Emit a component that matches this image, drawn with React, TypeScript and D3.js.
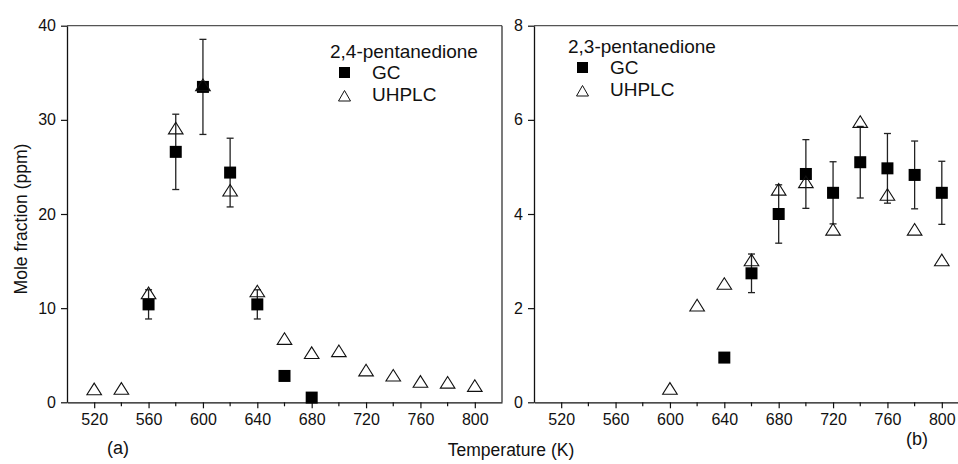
import React, { useEffect, useRef } from 'react'
import * as d3 from 'd3'

// x ticks shared by both panels
const tempTicks = [520, 560, 600, 640, 680, 720, 760, 800]
const tempMinor = [540, 580, 620, 660, 700, 740, 780]

// (a) 2,4-pentanedione
const gcTempA = [560, 580, 600, 620, 640, 660, 680]
const gcValA = [10.4, 26.6, 33.5, 24.4, 10.4, 2.8, 0.5]
const gcErrA = [1.55, 4.0, 5.05, 3.65, 1.55, 0, 0]
const lcTempA = [520, 540, 560, 580, 600, 620, 640, 660, 680, 700, 720, 740, 760, 780, 800]
const lcValA = [1.4, 1.45, 11.6, 29.1, 33.7, 22.5, 11.8, 6.75, 5.25, 5.45, 3.4, 2.85, 2.2, 2.1, 1.75]
const yTicksA = [0, 10, 20, 30, 40]

// (b) 2,3-pentanedione
const gcTempB = [640, 660, 680, 700, 720, 740, 760, 780, 800]
const gcValB = [0.95, 2.74, 4.0, 4.85, 4.45, 5.1, 4.97, 4.83, 4.45]
const gcErrB = [0.1, 0.41, 0.62, 0.73, 0.66, 0.76, 0.74, 0.72, 0.67]
const lcTempB = [600, 620, 640, 660, 680, 700, 720, 740, 760, 780, 800]
const lcValB = [0.29, 2.06, 2.52, 3.02, 4.52, 4.68, 3.67, 5.96, 4.41, 3.67, 3.02]
const yTicksB = [0, 2, 4, 6, 8]

const FONT = '"Liberation Sans", Arial, sans-serif'
const INK = '#111'

function drawPanel(svg, opts) {
  const { left, right, top, bottom, yMax, yTicks, gcT, gcV, gcE, lcT, lcV, name, legendX, legendY, box } = opts

  const x = d3.scaleLinear().domain([500, 820]).range([left, right])
  const y = d3.scaleLinear().domain([0, yMax]).range([bottom, top])

  const g = svg.append('g')

  // frame: top line, and right line if visible
  g.append('line').attr('x1', left).attr('x2', right).attr('y1', top).attr('y2', top)
    .attr('stroke', '#555').attr('stroke-width', 1.3)
  if (box) {
    g.append('line').attr('x1', right).attr('x2', right).attr('y1', top).attr('y2', bottom)
      .attr('stroke', '#333').attr('stroke-width', 1.3)
  }

  // bottom axis
  const xAxis = g.append('g').attr('transform', 'translate(0,' + bottom + ')')
    .call(d3.axisBottom(x).tickValues(tempTicks).tickSize(6).tickPadding(5).tickSizeOuter(0))
  xAxis.select('.domain').attr('stroke', INK).attr('stroke-width', 1.3)
  xAxis.selectAll('.tick line').attr('stroke', INK).attr('stroke-width', 1.2)
  xAxis.selectAll('text').attr('font-family', FONT).attr('font-size', 16).attr('fill', INK)
  xAxis.selectAll('.minor').data(tempMinor).enter().append('line')
    .attr('x1', d => x(d)).attr('x2', d => x(d)).attr('y1', 0).attr('y2', 4)
    .attr('stroke', INK).attr('stroke-width', 1.2)

  // left axis
  const yAxis = g.append('g').attr('transform', 'translate(' + left + ',0)')
    .call(d3.axisLeft(y).tickValues(yTicks).tickSize(6).tickPadding(5).tickSizeOuter(0))
  yAxis.select('.domain').attr('stroke', INK).attr('stroke-width', 1.3)
  yAxis.selectAll('.tick line').attr('stroke', INK).attr('stroke-width', 1.2)
  yAxis.selectAll('text').attr('font-family', FONT).attr('font-size', 16).attr('fill', INK)

  // GC error bars
  const gc = gcT.map((t, i) => ({ t: t, v: gcV[i], e: gcE[i] }))
  const eb = g.append('g').attr('stroke', '#222').attr('stroke-width', 1.3)
  gc.filter(d => d.e > 0).forEach(d => {
    eb.append('line').attr('x1', x(d.t)).attr('x2', x(d.t)).attr('y1', y(d.v - d.e)).attr('y2', y(d.v + d.e))
    eb.append('line').attr('x1', x(d.t) - 3.5).attr('x2', x(d.t) + 3.5).attr('y1', y(d.v - d.e)).attr('y2', y(d.v - d.e))
    eb.append('line').attr('x1', x(d.t) - 3.5).attr('x2', x(d.t) + 3.5).attr('y1', y(d.v + d.e)).attr('y2', y(d.v + d.e))
  })

  // GC squares
  g.selectAll('.gc').data(gc).enter().append('rect')
    .attr('x', d => x(d.t) - 6).attr('y', d => y(d.v) - 6)
    .attr('width', 12).attr('height', 12).attr('fill', '#000')

  // UHPLC triangles
  const tri = 'M0,-6 L7.3,5.6 L-7.3,5.6 Z'
  g.selectAll('.lc').data(lcT.map((t, i) => ({ t: t, v: lcV[i] }))).enter().append('path')
    .attr('d', tri).attr('transform', d => 'translate(' + x(d.t) + ',' + y(d.v) + ')')
    .attr('fill', 'none').attr('stroke', '#111').attr('stroke-width', 1.1)

  // legend
  const lg = g.append('g').attr('font-family', FONT).attr('font-size', 19).attr('fill', INK)
  lg.append('text').attr('x', legendX).attr('y', legendY).text(name)
  lg.append('rect').attr('x', legendX + 9).attr('y', legendY + 9).attr('width', 11).attr('height', 11).attr('fill', '#000')
  lg.append('text').attr('x', legendX + 42).attr('y', legendY + 21).text('GC')
  lg.append('path').attr('d', 'M0,-5.5 L6,5 L-6,5 Z')
    .attr('transform', 'translate(' + (legendX + 14.5) + ',' + (legendY + 38) + ')')
    .attr('fill', 'none').attr('stroke', '#111').attr('stroke-width', 1)
  lg.append('text').attr('x', legendX + 42).attr('y', legendY + 43).text('UHPLC')
}

export default function App() {
  const ref = useRef(null)

  useEffect(() => {
    const svg = d3.select(ref.current)
    svg.selectAll('*').remove()

    drawPanel(svg, {
      left: 67, right: 502, top: 25.7, bottom: 402.3, yMax: 40, yTicks: yTicksA,
      gcT: gcTempA, gcV: gcValA, gcE: gcErrA, lcT: lcTempA, lcV: lcValA,
      name: '2,4-pentanedione', legendX: 330, legendY: 58, box: true
    })
    drawPanel(svg, {
      left: 534, right: 969, top: 25.7, bottom: 402.3, yMax: 8, yTicks: yTicksB,
      gcT: gcTempB, gcV: gcValB, gcE: gcErrB, lcT: lcTempB, lcV: lcValB,
      name: '2,3-pentanedione', legendX: 568, legendY: 53, box: false
    })

    // titles and panel labels
    svg.append('text').attr('transform', 'translate(27,219) rotate(-90)')
      .attr('text-anchor', 'middle').attr('font-family', FONT).attr('font-size', 17.5).attr('fill', INK)
      .text('Mole fraction (ppm)')
    svg.append('text').attr('x', 511).attr('y', 456).attr('text-anchor', 'middle')
      .attr('font-family', FONT).attr('font-size', 17.5).attr('fill', INK).text('Temperature (K)')
    svg.append('text').attr('x', 118).attr('y', 454).attr('text-anchor', 'middle')
      .attr('font-family', FONT).attr('font-size', 18).attr('fill', INK).text('(a)')
    svg.append('text').attr('x', 917).attr('y', 445).attr('text-anchor', 'middle')
      .attr('font-family', FONT).attr('font-size', 18).attr('fill', INK).text('(b)')
  }, [])

  return (
    <svg ref={ref} width={958} height={464}
      style={{ position: 'absolute', left: 0, top: 0, background: '#fff' }} />
  )
}
